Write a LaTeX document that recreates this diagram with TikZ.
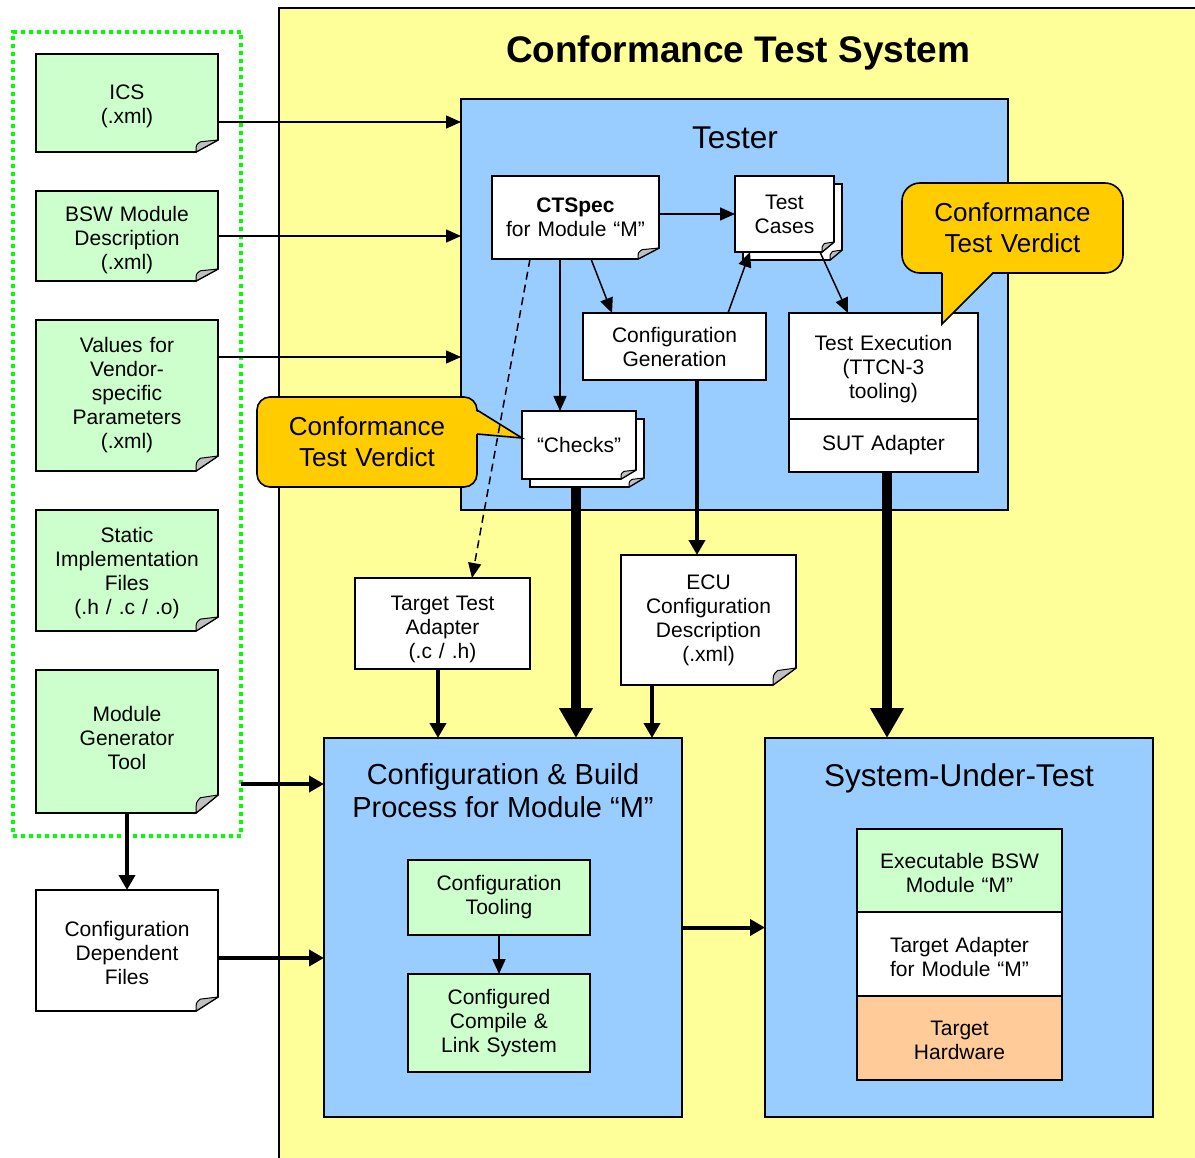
\documentclass[tikz,border=0pt]{standalone}
\usepackage{fontspec}
\setmainfont{Liberation Sans}
\usetikzlibrary{arrows.meta,calc}
\definecolor{ybg}{HTML}{FFFF99}
\definecolor{bbg}{HTML}{99CCFF}
\definecolor{gbg}{HTML}{CCFFCC}
\definecolor{obg}{HTML}{FFCC99}
\definecolor{callc}{HTML}{FFCC00}
\definecolor{dotg}{HTML}{00FF00}
\definecolor{foldg}{HTML}{C0C0C0}
\pgfdeclarelayer{back}
\pgfdeclarelayer{mid}
\pgfsetlayers{back,mid,main}
\newcommand\nf{\fontsize{21}{24}\selectfont}
\newcommand\trailsp[1]{\endgraf\vspace*{#1}}
\newcommand\docsh[4]{%
 \begin{pgfonlayer}{mid}
 \path (#1.south east) ++(-#3,0) coordinate (#1-fa);
 \path (#1.south east) ++(0,-#4) coordinate (#1-fb);
 \filldraw[fill=#2, line width=1.6pt] (#1.north west) -- (#1.north east) -- (#1-fb) -- (#1-fa) -- (#1.south west) -- cycle;
 \filldraw[fill=foldg, line width=1pt, line join=round] (#1-fa) .. controls +(0,{-0.6*#4}) .. ($(#1-fa)+({0.2*#3},{-0.85*#4})$) -- (#1-fb) -- cycle;
 \end{pgfonlayer}}
\begin{document}
\begin{tikzpicture}[x=1pt,y=-1pt,
 every node/.style={inner sep=0pt, outer sep=0pt, align=center, font=\nf},
 bx/.style 2 args={minimum width=#1, text width=#1, minimum height=#2},
 tdn/.style={execute at end node={\trailsp{-#1}}},
 tup/.style={execute at end node={\trailsp{#1}}},
 box/.style={draw=black, line width=1.6pt},
 arr/.style={line width=1.5pt, -{Triangle[length=15pt,width=13pt]}},
 tarr/.style={line width=4pt, -{Triangle[length=15pt,width=16pt]}},
 harr/.style={line width=10pt, -{Triangle[length=30pt,width=32pt]}},
 call/.style={fill=callc, draw=black, line width=1.6pt, font=\fontsize{26}{31}\selectfont},
]
\useasboundingbox (0,0) rectangle (1195,1158);

\begin{pgfonlayer}{back}
\fill[ybg] (279,8) rectangle (1215,1175);
\draw[line width=2pt] (279,1175) -- (279,8) -- (1215,8);
\node[draw=dotg, line width=4pt, dash pattern=on 4pt off 4pt, bx={228}{803.5}] (grp) at (127,433.75) {};
\node[box, fill=bbg, bx={547}{411}] (tester) at (734.5,304.5) {};
\node[box, fill=bbg, bx={358}{379}] (cb) at (503,927.5) {};
\node[box, fill=bbg, bx={388}{379}] (sut) at (959,927.5) {};
\end{pgfonlayer}

% titles
\node[font=\fontsize{37}{44}\selectfont\bfseries] (title) at (738,53) {Conformance Test System};
\node[font=\fontsize{31.5}{36}\selectfont] (testerT) at (735,138) {Tester};
\node[font=\fontsize{29}{33}\selectfont] (cbT) at (503,791) {Configuration \& Build\\Process for Module “M”};
\node[font=\fontsize{31.5}{36}\selectfont] (sutT) at (959,778) {System-Under-Test};

% left documents
\node[bx={182}{98}, tdn=6pt] (ics) at (127,103) {ICS\\(.xml)};
\docsh{ics}{gbg}{22}{12}
\node[bx={182}{90}, tdn=8pt] (bsw) at (127,236) {BSW Module\\Description\\(.xml)};
\docsh{bsw}{gbg}{22}{12}
\node[bx={182}{151}] (vals) at (127,395.5) {Values for\\Vendor-\\specific\\Parameters\\(.xml)};
\docsh{vals}{gbg}{22}{15}
\node[bx={182}{121}, tdn=5pt] (stat) at (127,570.5) {Static\\Implementation\\Files\\(.h / .c / .o)};
\docsh{stat}{gbg}{22}{14}
\node[bx={182}{143}, tup=8pt] (mgt) at (127,741.5) {Module\\Generator\\Tool};
\docsh{mgt}{gbg}{22}{18}
\node[bx={182}{121}, tdn=4pt] (cdf) at (127,950.5) {Configuration\\Dependent\\Files};
\docsh{cdf}{white}{22}{14}

% tester contents
\node[bx={167}{83}] (ctspec) at (575.5,217.5) {\textbf{CTSpec}\\for Module “M”};
\docsh{ctspec}{white}{21}{11}
\node[bx={99}{76}] (tc2) at (792.5,222) {};
\docsh{tc2}{white}{12}{10}
\node[bx={99}{76}] (tc) at (784.5,214) {Test\\Cases};
\docsh{tc}{white}{12}{10}
\node[box, fill=white, bx={183}{67}] (cg) at (674.5,346.5) {Configuration\\Generation};
\node[box, fill=white, bx={189}{106}, tdn=6pt] (te) at (883.5,366) {Test Execution\\(TTCN-3\\tooling)};
\node[box, fill=white, bx={189}{53}] (sutad) at (883.5,445.5) {SUT Adapter};
\node[bx={114}{68}] (ck2) at (587,453) {};
\docsh{ck2}{white}{15}{9}
\node[bx={114}{68}] (ck) at (579,445) {“Checks”};
\docsh{ck}{white}{15}{9}

% lower boxes
\node[box, fill=white, bx={175}{91}, tdn=12pt] (tta) at (442.5,623.5) {Target Test\\Adapter\\(.c / .h)};
\node[bx={175}{130}] (ecu) at (708.5,620) {ECU\\Configuration\\Description\\(.xml)};
\docsh{ecu}{white}{23}{17}
\node[box, fill=gbg, bx={182}{75}] (ctool) at (499,897.5) {Configuration\\Tooling};
\node[box, fill=gbg, bx={182}{98}] (ccl) at (499,1023) {Configured\\Compile \&\\Link System};
\node[box, fill=gbg, bx={205}{83}, tdn=5pt] (exe) at (959.5,870.5) {Executable BSW\\Module “M”};
\node[box, fill=white, bx={205}{84}, tdn=5pt] (tad) at (959.5,954) {Target Adapter\\for Module “M”};
\node[box, fill=obg, bx={205}{84}, tdn=5pt] (thw) at (959.5,1038) {Target\\Hardware};

% callouts
\node[call, rounded corners=13pt, bx={220}{90}] (cv1) at (367,442) {Conformance\\Test Verdict};
\fill[callc] ([shift={(-3pt,32pt)}]cv1.east) -- ([yshift=7pt]ck.west) -- ([shift={(-3pt,8pt)}]cv1.east) -- cycle;
\draw[line width=1.6pt] ([yshift=32pt]cv1.east) -- ([yshift=7pt]ck.west) -- ([yshift=8pt]cv1.east);
\node[call, rounded corners=18pt, bx={221}{90}] (cv2) at (1012.5,228) {Conformance\\Test Verdict};
\fill[callc] ([shift={(-70.5pt,4pt)}]cv2.south) -- ([shift={(58.5pt,-11pt)}]te.north) -- ([shift={(-17pt,4pt)}]cv2.south) -- cycle;
\draw[line width=1.6pt] ([xshift=-70.5pt]cv2.south) -- ([shift={(58.5pt,-11pt)}]te.north) -- ([xshift=-19.5pt]cv2.south);

% connectors
\path ([yshift=-19pt]ics.east) coordinate (p1);
\draw[arr] (p1) -- (p1 -| tester.west);
\draw[arr] (bsw.east) -- (bsw.east -| tester.west);
\path ([yshift=38.5pt]vals.east) coordinate (p3);
\draw[arr] (p3) -- (p3 -| tester.west);
\draw[arr] (tc.west -| ctspec.east) -- (tc.west);
\draw[arr] ([xshift=99pt]ctspec.south west) -- ([xshift=29pt]cg.north west);
\draw[arr] ([xshift=145pt]cg.north west) -- ([xshift=15pt]tc.south west);
\draw[arr] ([xshift=-14pt]tc.south east) -- ([xshift=59pt]te.north west);
\path ([xshift=68pt]ctspec.south west) coordinate (p8);
\draw[arr] (p8) -- (p8 |- ck.north);
\draw[arr, dash pattern=on 8pt off 5pt] ([xshift=38pt]ctspec.south west) -- ([xshift=117pt]tta.north west);
\path ([xshift=22.5pt]cg.south) coordinate (p10);
\draw[tarr] (p10) -- (p10 |- ecu.north);
\path ([xshift=-11pt]ck2.south) coordinate (p11);
\draw[harr] (p11) -- (p11 |- cb.north);
\path ([xshift=3.5pt]sutad.south) coordinate (p12);
\draw[harr] (p12) -- (p12 |- sut.north);
\path ([xshift=-4.5pt]tta.south) coordinate (p13);
\draw[tarr] (p13) -- (p13 |- cb.north);
\path ([xshift=-56.5pt]ecu.south) coordinate (p14);
\draw[tarr] (p14) -- (p14 |- cb.north);
\path ([yshift=-42.5pt]mgt.east) coordinate (p15);
\draw[tarr] (p15 -| grp.east) -- (p15 -| cb.west);
\draw[tarr] (mgt.south) -- (cdf.north);
\path ([yshift=-7.5pt]cdf.east) coordinate (p17);
\draw[tarr] (p17) -- (p17 -| cb.west);
\draw[arr, line width=2pt] (ctool.south) -- (ccl.north);
\draw[tarr] (cb.east) -- (sut.west);
\end{tikzpicture}
\end{document}
